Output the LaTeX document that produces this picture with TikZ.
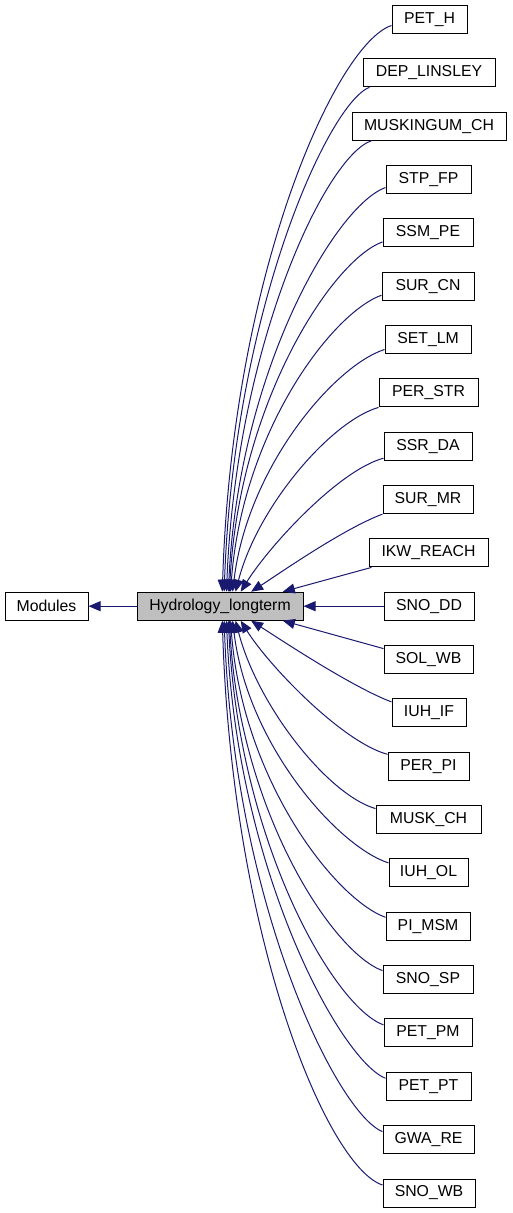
\documentclass[tikz,border=0pt]{standalone}
\usepackage{fontspec}
\setmainfont{Liberation Sans}
\usetikzlibrary{arrows.meta}
\definecolor{edgeblue}{HTML}{191970}
\definecolor{hydfill}{HTML}{BFBFBF}
\begin{document}
\begin{tikzpicture}[x=1pt,y=-1pt,
  box/.style={draw=black, line width=1pt, minimum height=28pt, inner sep=0pt,
    font=\fontsize{15.8}{18}\selectfont, anchor=center},
  edge/.style={draw=edgeblue, line width=1pt, -{Triangle[length=12pt,width=10pt]}}]
\useasboundingbox (0,0) rectangle (512,1213);
\node[box, minimum width=83pt] (mod) at (46.5,606.2) {Modules};
\node[box, minimum width=166pt, fill=hydfill] (hyd) at (220,606.2) {Hydrology\_longterm};
\node[box, minimum width=75pt]  (b0)  at (429.5,19.5)  {PET\_H};
\node[box, minimum width=132pt] (b1)  at (429,72.8)    {DEP\_LINSLEY};
\node[box, minimum width=154pt] (b2)  at (429,126.2)   {MUSKINGUM\_CH};
\node[box, minimum width=85pt]  (b3)  at (428.5,179.5) {STP\_FP};
\node[box, minimum width=90pt]  (b4)  at (428,232.9)   {SSM\_PE};
\node[box, minimum width=92pt]  (b5)  at (428,286.2)   {SUR\_CN};
\node[box, minimum width=86pt]  (b6)  at (428,339.5)   {SET\_LM};
\node[box, minimum width=99pt]  (b7)  at (428.5,392.9) {PER\_STR};
\node[box, minimum width=88pt]  (b8)  at (428,446.2)   {SSR\_DA};
\node[box, minimum width=90pt]  (b9)  at (428,499.6)   {SUR\_MR};
\node[box, minimum width=119pt] (b10) at (428.5,552.9) {IKW\_REACH};
\node[box, minimum width=90pt]  (b11) at (429,606.2)   {SNO\_DD};
\node[box, minimum width=89pt]  (b12) at (428.5,659.6) {SOL\_WB};
\node[box, minimum width=74pt]  (b13) at (429,712.9)   {IUH\_IF};
\node[box, minimum width=81pt]  (b14) at (428.5,766.3) {PER\_PI};
\node[box, minimum width=105pt] (b15) at (428.5,819.6) {MUSK\_CH};
\node[box, minimum width=79pt]  (b16) at (428.5,872.9) {IUH\_OL};
\node[box, minimum width=84pt]  (b17) at (428,926.3)   {PI\_MSM};
\node[box, minimum width=90pt]  (b18) at (428,979.6)   {SNO\_SP};
\node[box, minimum width=88pt]  (b19) at (428,1032.9)  {PET\_PM};
\node[box, minimum width=85pt]  (b20) at (428.5,1086.3){PET\_PT};
\node[box, minimum width=91pt]  (b21) at (428.5,1139.6){GWA\_RE};
\node[box, minimum width=92pt]  (b22) at (429,1193)    {SNO\_WB};
% Modules <- Hydrology
\draw[edge] (hyd.west) -- (mod.east);
% upper edges
\draw[edge] ([yshift=-6pt]b0.west) .. controls +(-55,18) and +(10,-320) .. (hyd.81.9);
\draw[edge] ([xshift=7pt]b1.south west) .. controls +(-40,15) and +(10,-285) .. (hyd.74.1);
\draw[edge] ([xshift=20pt]b2.south west) .. controls +(-45,15) and +(10,-250) .. (hyd.66.8);
\draw[edge] ([yshift=-8pt]b3.west) .. controls +(-50,18) and +(10,-220) .. (hyd.60.3);
\draw[edge] ([yshift=-9pt]b4.west) .. controls +(-50,18) and +(10,-190) .. (hyd.57.3);
\draw[edge] ([yshift=-9pt]b5.west) .. controls +(-50,18) and +(12,-160) .. (hyd.54.5);
\draw[edge] ([yshift=-10pt]b6.west) .. controls +(-50,16) and +(15,-125) .. (hyd.49.4);
\draw[edge] (b7.south west) .. controls +(-48,14) and +(22,-85) .. (hyd.43);
\draw[edge] ([yshift=-12pt]b8.west) .. controls +(-45,12) and +(28,-45) .. (hyd.35);
\draw[edge] (b9.south west) .. controls +(-40,15) and +(25,-16) .. (hyd.25);
\draw[edge] ([xshift=3pt]b10.south west) -- (hyd.13.1);
\draw[edge] (b11.west) -- (hyd.east);
% lower edges
\draw[edge] ([yshift=11pt]b12.west) -- (hyd.-13.1);
\draw[edge] ([yshift=11pt]b13.west) .. controls +(-40,-15) and +(25,16) .. (hyd.-25);
\draw[edge] ([yshift=12pt]b14.west) .. controls +(-45,-12) and +(28,45) .. (hyd.-35);
\draw[edge] ([yshift=11pt]b15.west) .. controls +(-48,-14) and +(22,85) .. (hyd.-43);
\draw[edge] ([yshift=10pt]b16.west) .. controls +(-50,-16) and +(15,125) .. (hyd.-49.4);
\draw[edge] ([yshift=9pt]b17.west) .. controls +(-50,-18) and +(12,160) .. (hyd.-54.5);
\draw[edge] ([yshift=9pt]b18.west) .. controls +(-50,-18) and +(10,190) .. (hyd.-57.3);
\draw[edge] ([yshift=8pt]b19.west) .. controls +(-50,-18) and +(10,220) .. (hyd.-60.3);
\draw[edge] ([yshift=8pt]b20.west) .. controls +(-45,-18) and +(10,250) .. (hyd.-66.8);
\draw[edge] ([yshift=8pt]b21.west) .. controls +(-45,-18) and +(10,285) .. (hyd.-74.1);
\draw[edge] ([yshift=8pt]b22.west) .. controls +(-55,-18) and +(10,320) .. (hyd.-81.9);
\end{tikzpicture}
\end{document}
